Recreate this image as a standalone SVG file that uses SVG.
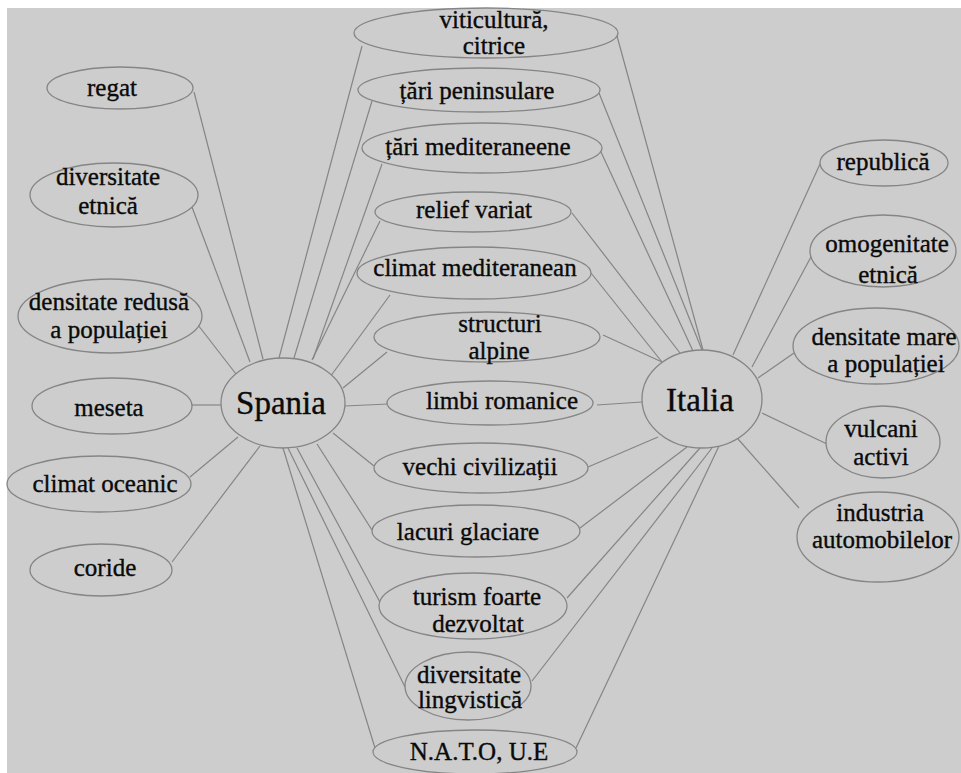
<svg xmlns="http://www.w3.org/2000/svg" width="961" height="773" viewBox="0 0 961 773">
<style>
.bg{fill:#cdcdcd}
.n ellipse{fill:#cdcdcd;stroke:#858585;stroke-width:1.3}
.n text{font-family:"Liberation Serif","Times New Roman",serif;font-size:25px;fill:#0a0a0a;stroke:#0a0a0a;stroke-width:0.35;text-anchor:middle}
.big text{font-size:33px}
#edges line{stroke:#858585;stroke-width:1.2}
</style>
<rect width="961" height="773" fill="#ffffff"/>
<rect class="bg" x="7" y="8" width="954" height="765"/>
<g id="edges">
<line x1="194" y1="92" x2="263" y2="359"/>
<line x1="192" y1="207" x2="250" y2="362"/>
<line x1="198" y1="325" x2="236" y2="374"/>
<line x1="192" y1="405" x2="221" y2="405"/>
<line x1="190" y1="477" x2="238" y2="437"/>
<line x1="172" y1="562" x2="260" y2="446"/>
<line x1="362" y1="46" x2="279" y2="358"/>
<line x1="372" y1="101" x2="294" y2="358"/>
<line x1="382" y1="164" x2="313" y2="359"/>
<line x1="380" y1="221" x2="312" y2="360"/>
<line x1="390" y1="295" x2="330" y2="377"/>
<line x1="387" y1="352" x2="343" y2="388"/>
<line x1="388" y1="404" x2="345" y2="406"/>
<line x1="374" y1="466" x2="333" y2="433"/>
<line x1="372" y1="530" x2="317" y2="444"/>
<line x1="381" y1="604" x2="297" y2="448"/>
<line x1="405" y1="687" x2="288" y2="448"/>
<line x1="375" y1="748" x2="283" y2="448"/>
<line x1="617" y1="36" x2="703" y2="350"/>
<line x1="599" y1="93" x2="702" y2="350"/>
<line x1="601" y1="152" x2="693" y2="351"/>
<line x1="572" y1="213" x2="680" y2="353"/>
<line x1="591" y1="273" x2="662" y2="362"/>
<line x1="603" y1="335" x2="662" y2="362"/>
<line x1="597" y1="405" x2="642" y2="402"/>
<line x1="588" y1="467" x2="658" y2="437"/>
<line x1="580" y1="528" x2="687" y2="447"/>
<line x1="567" y1="598" x2="700" y2="448"/>
<line x1="532" y1="681" x2="712" y2="448"/>
<line x1="576" y1="748" x2="719" y2="446"/>
<line x1="820" y1="164" x2="733" y2="355"/>
<line x1="812" y1="255" x2="752" y2="367"/>
<line x1="794" y1="353" x2="758" y2="378"/>
<line x1="827" y1="444" x2="762" y2="413"/>
<line x1="799" y1="508" x2="738" y2="439"/>
</g>
<g id="regat" class="n"><ellipse cx="120" cy="88" rx="73" ry="21"/><text x="112" y="96">regat</text></g>
<g id="diversitate-etnica" class="n"><ellipse cx="114" cy="195" rx="84" ry="32"/><text x="108" y="185">diversitate</text><text x="108" y="214">etnică</text></g>
<g id="densitate-redusa" class="n"><ellipse cx="110" cy="316" rx="92" ry="37"/><text x="109" y="310">densitate redusă</text><text x="109" y="338">a populației</text></g>
<g id="meseta" class="n"><ellipse cx="112" cy="406" rx="80" ry="28"/><text x="109" y="416">meseta</text></g>
<g id="climat-oceanic" class="n"><ellipse cx="99" cy="484" rx="92" ry="28"/><text x="105" y="492">climat oceanic</text></g>
<g id="coride" class="n"><ellipse cx="101" cy="570" rx="71" ry="26"/><text x="105" y="576">coride</text></g>
<g id="spania" class="n big"><ellipse cx="283" cy="403" rx="62" ry="45"/><text x="281" y="414">Spania</text></g>
<g id="viticultura" class="n"><ellipse cx="486" cy="33" rx="132" ry="25"/><text x="494" y="28">viticultură,</text><text x="494" y="54">citrice</text></g>
<g id="tari-peninsulare" class="n"><ellipse cx="479" cy="90" rx="121" ry="22"/><text x="477" y="99">țări peninsulare</text></g>
<g id="tari-mediteraneene" class="n"><ellipse cx="482" cy="148" rx="120" ry="25"/><text x="478" y="155">țări mediteraneene</text></g>
<g id="relief-variat" class="n"><ellipse cx="473" cy="212" rx="98" ry="20"/><text x="474" y="218">relief variat</text></g>
<g id="climat-mediteranean" class="n"><ellipse cx="474" cy="273" rx="117" ry="26"/><text x="475" y="276">climat mediteranean</text></g>
<g id="structuri-alpine" class="n"><ellipse cx="487" cy="337" rx="113" ry="25"/><text x="500" y="332">structuri</text><text x="499" y="359">alpine</text></g>
<g id="limbi-romanice" class="n"><ellipse cx="490" cy="403" rx="103" ry="22"/><text x="502" y="409">limbi romanice</text></g>
<g id="vechi-civilizatii" class="n"><ellipse cx="481" cy="468" rx="107" ry="25"/><text x="480" y="475">vechi civilizații</text></g>
<g id="lacuri-glaciare" class="n"><ellipse cx="476" cy="531" rx="104" ry="26"/><text x="468" y="540">lacuri glaciare</text></g>
<g id="turism" class="n"><ellipse cx="473" cy="606" rx="94" ry="33"/><text x="477" y="605">turism foarte</text><text x="478" y="632">dezvoltat</text></g>
<g id="diversitate-lingvistica" class="n"><ellipse cx="468" cy="686" rx="63" ry="34"/><text x="469" y="683">diversitate</text><text x="470" y="708">lingvistică</text></g>
<g id="nato-ue" class="n"><ellipse cx="475" cy="752" rx="102" ry="22"/><text x="479" y="760">N.A.T.O, U.E</text></g>
<g id="italia" class="n big"><ellipse cx="702" cy="399" rx="60" ry="49"/><text x="700" y="411">Italia</text></g>
<g id="republica" class="n"><ellipse cx="884" cy="163" rx="64" ry="23"/><text x="883" y="170">republică</text></g>
<g id="omogenitate-etnica" class="n"><ellipse cx="883" cy="251" rx="73" ry="36"/><text x="887" y="252">omogenitate</text><text x="888" y="283">etnică</text></g>
<g id="densitate-mare" class="n"><ellipse cx="876" cy="346" rx="83" ry="38"/><text x="884" y="345">densitate mare</text><text x="886" y="372">a populației</text></g>
<g id="vulcani-activi" class="n"><ellipse cx="883" cy="442" rx="57" ry="36"/><text x="881" y="437">vulcani</text><text x="881" y="465">activi</text></g>
<g id="industria-automobilelor" class="n"><ellipse cx="878" cy="537" rx="81" ry="45"/><text x="880" y="521">industria</text><text x="882" y="548">automobilelor</text></g>
</svg>
